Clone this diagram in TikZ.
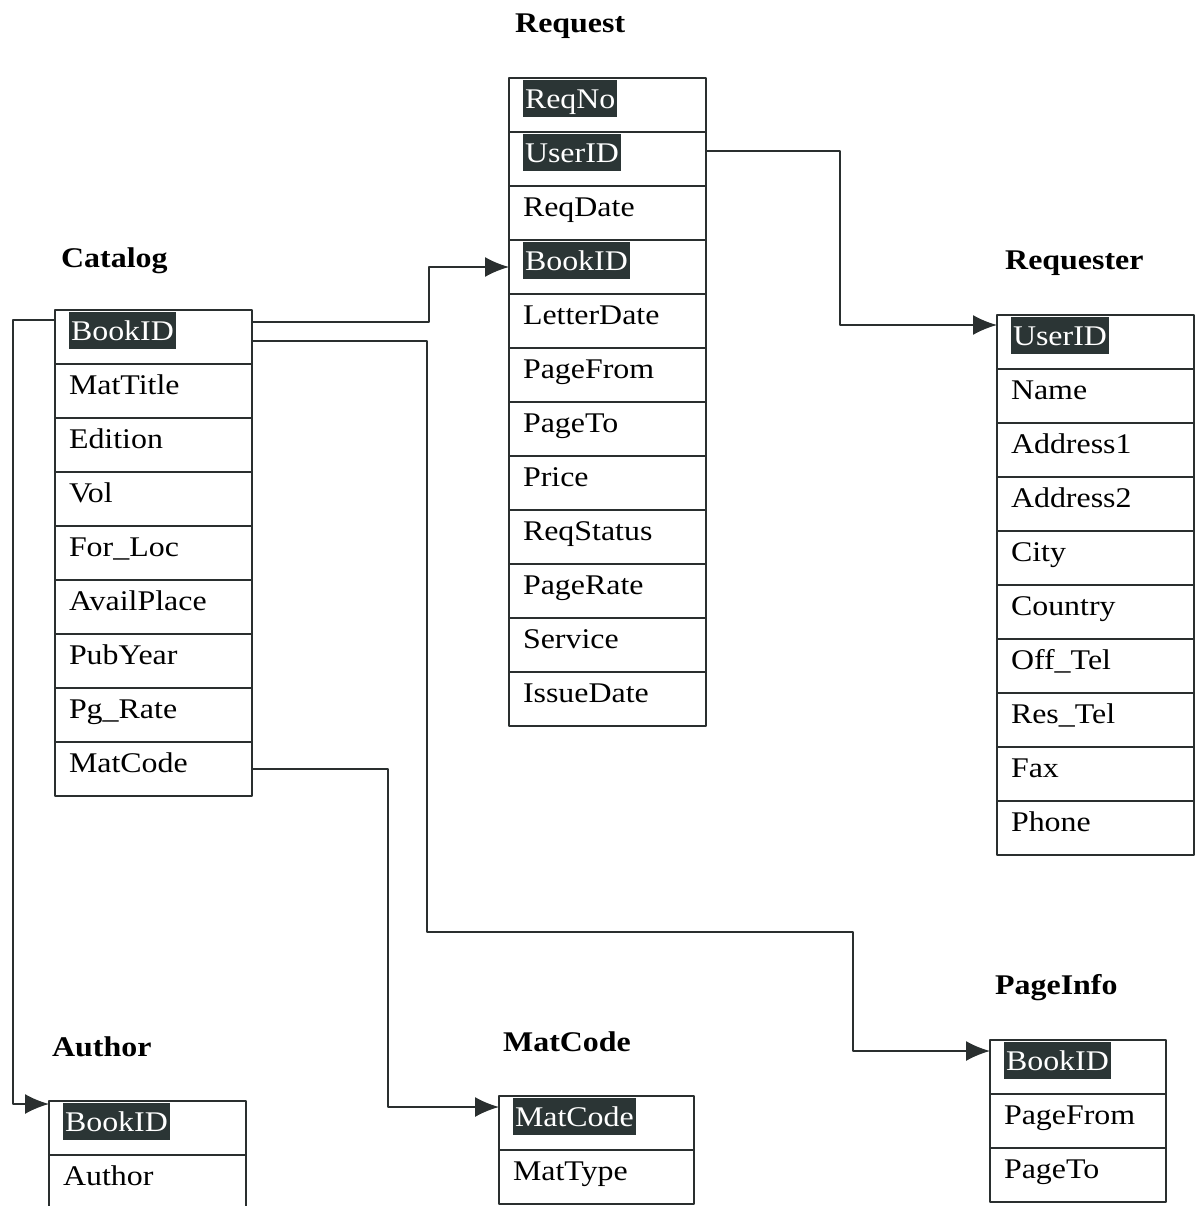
\documentclass[tikz,border=0pt]{standalone}
\usepackage{fontspec}
\setmainfont{Liberation Serif}[FakeStretch=1.12]
\usetikzlibrary{arrows.meta}
\definecolor{keyfill}{HTML}{2B3535}
\definecolor{linec}{HTML}{2A2F2F}
\newcommand{\keyfield}[1]{{\setlength{\fboxsep}{2bp}\colorbox{keyfill}{\color{white}\rule[-7bp]{0pt}{33bp}#1}}}
\begin{document}
\begin{tikzpicture}[>={Latex[length=24bp,width=20bp]},line join=bevel,
  every node/.style={font=\fontsize{28.5bp}{34bp}\selectfont},
  row/.style={draw=linec,line width=1.4bp,anchor=north west,outer sep=0pt,
    minimum height=54bp,inner xsep=14bp,inner ysep=0pt,text width=#1,
    align=left,text height=23bp,text depth=17bp},
  row/.default=169bp,
  title/.style={anchor=base west,inner sep=0pt,font=\fontsize{28.5bp}{34bp}\selectfont\bfseries},
  link/.style={draw=linec,line width=1.8bp,->}]
%%
\clip (0bp,0bp) rectangle (1204bp,-1206bp);
%% Catalog
\node (catalog) at (61bp,-267bp) [title] {Catalog};
  \node (catalog_1) at (55bp,-310bp) [row] {\keyfield{BookID}};
  \node (catalog_2) at (catalog_1.south west) [row] {MatTitle};
  \node (catalog_3) at (catalog_2.south west) [row] {Edition};
  \node (catalog_4) at (catalog_3.south west) [row] {Vol};
  \node (catalog_5) at (catalog_4.south west) [row] {For\_Loc};
  \node (catalog_6) at (catalog_5.south west) [row] {AvailPlace};
  \node (catalog_7) at (catalog_6.south west) [row] {PubYear};
  \node (catalog_8) at (catalog_7.south west) [row] {Pg\_Rate};
  \node (catalog_9) at (catalog_8.south west) [row] {MatCode};
%% Request
\node (request) at (515bp,-32bp) [title] {Request};
  \node (request_1) at (509bp,-78bp) [row] {\keyfield{ReqNo}};
  \node (request_2) at (request_1.south west) [row] {\keyfield{UserID}};
  \node (request_3) at (request_2.south west) [row] {ReqDate};
  \node (request_4) at (request_3.south west) [row] {\keyfield{BookID}};
  \node (request_5) at (request_4.south west) [row] {LetterDate};
  \node (request_6) at (request_5.south west) [row] {PageFrom};
  \node (request_7) at (request_6.south west) [row] {PageTo};
  \node (request_8) at (request_7.south west) [row] {Price};
  \node (request_9) at (request_8.south west) [row] {ReqStatus};
  \node (request_10) at (request_9.south west) [row] {PageRate};
  \node (request_11) at (request_10.south west) [row] {Service};
  \node (request_12) at (request_11.south west) [row] {IssueDate};
%% Requester
\node (requester) at (1005bp,-269bp) [title] {Requester};
  \node (requester_1) at (997bp,-315bp) [row] {\keyfield{UserID}};
  \node (requester_2) at (requester_1.south west) [row] {Name};
  \node (requester_3) at (requester_2.south west) [row] {Address1};
  \node (requester_4) at (requester_3.south west) [row] {Address2};
  \node (requester_5) at (requester_4.south west) [row] {City};
  \node (requester_6) at (requester_5.south west) [row] {Country};
  \node (requester_7) at (requester_6.south west) [row] {Off\_Tel};
  \node (requester_8) at (requester_7.south west) [row] {Res\_Tel};
  \node (requester_9) at (requester_8.south west) [row] {Fax};
  \node (requester_10) at (requester_9.south west) [row] {Phone};
%% Author
\node (author) at (52bp,-1056bp) [title] {Author};
  \node (author_1) at (49bp,-1101bp) [row] {\keyfield{BookID}};
  \node (author_2) at (author_1.south west) [row] {Author};
%% MatCode
\node (matcode) at (503bp,-1051bp) [title] {MatCode};
  \node (matcode_1) at (499bp,-1096bp) [row=167bp] {\keyfield{MatCode}};
  \node (matcode_2) at (matcode_1.south west) [row=167bp] {MatType};
%% PageInfo
\node (pageinfo) at (995bp,-994bp) [title] {PageInfo};
  \node (pageinfo_1) at (990bp,-1040bp) [row=148bp] {\keyfield{BookID}};
  \node (pageinfo_2) at (pageinfo_1.south west) [row=148bp] {PageFrom};
  \node (pageinfo_3) at (pageinfo_2.south west) [row=148bp] {PageTo};
%% links
  \draw [link] ([yshift=-12bp]catalog_1.north east) -- ++(177bp,0bp) |- (request_4.west);
  \draw [link] ([yshift=-31bp]catalog_1.north east) -- ++(175bp,0bp) -- ++(0bp,-591bp)
    -| ([xshift=-137bp,yshift=-11bp]pageinfo_1.north west) -- ([yshift=-11bp]pageinfo_1.north west);
  \draw [link] ([yshift=-10bp]catalog_1.north west) -- ++(-42bp,0bp) |- ([yshift=-3bp]author_1.north west);
  \draw [link] (catalog_9.east) -- ++(136bp,0bp) |- ([yshift=-11bp]matcode_1.north west);
  \draw [link] ([yshift=-19bp]request_2.north east) -- ++(134bp,0bp) |- ([yshift=-10bp]requester_1.north west);
%
\end{tikzpicture}
\end{document}
